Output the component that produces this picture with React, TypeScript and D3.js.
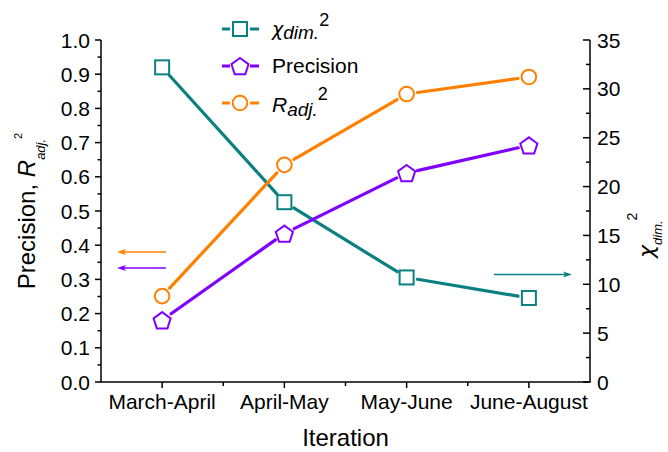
import React from "react";
import * as d3 from "d3";

const categories = ["March-April", "April-May", "May-June", "June-August"];
const chiValues = [32.2, 18.4, 10.7, 8.6];
const precisionValues = [0.181, 0.434, 0.611, 0.692];
const r2Values = [0.251, 0.635, 0.842, 0.892];
const leftTicks = [0, 0.1, 0.2, 0.3, 0.4, 0.5, 0.6, 0.7, 0.8, 0.9, 1.0];
const rightTicks = [0, 5, 10, 15, 20, 25, 30, 35];

const W = 668, H = 452;
const M = { left: 101, right: 590, top: 40, bottom: 382 };
const TEAL = "#0a8080", PURPLE = "#8000ff", ORANGE = "#ff8000";
const FONT = "'Liberation Sans', Arial, sans-serif";
const GREEK = "'DejaVu Sans', sans-serif";

const x = d3.scalePoint<string>().domain(categories).range([M.left, M.right]).padding(0.5);
const yL = d3.scaleLinear().domain([0, 1]).range([M.bottom, M.top]);
const yR = d3.scaleLinear().domain([0, 35]).range([M.bottom, M.top]);

function pentagon(r: number) {
  const pts = d3.range(5).map((i) => {
    const a = -Math.PI / 2 + (i * 2 * Math.PI) / 5;
    return [r * Math.cos(a), r * Math.sin(a)];
  });
  return "M" + pts.map((p) => p.join(",")).join("L") + "Z";
}

function Marker({ kind, cx, cy, color }: any) {
  if (kind === "square")
    return <rect x={cx - 7} y={cy - 7} width={14} height={14} fill="white" stroke={color} strokeWidth={2} />;
  if (kind === "circle") return <circle cx={cx} cy={cy} r={7.3} fill="white" stroke={color} strokeWidth={2} />;
  return <path transform={`translate(${cx},${cy + 1})`} d={pentagon(9)} fill="white" stroke={color} strokeWidth={2} strokeLinejoin="miter" />;
}

function Series({ values, scale, color, kind }: any) {
  const pts = values.map((v: number, i: number) => [x(categories[i])!, scale(v)]);
  const gap = 11;
  const segs = [];
  for (let i = 0; i < pts.length - 1; i++) {
    const [x1, y1] = pts[i], [x2, y2] = pts[i + 1];
    const len = Math.hypot(x2 - x1, y2 - y1);
    const ux = (x2 - x1) / len, uy = (y2 - y1) / len;
    segs.push(
      <line key={i} x1={x1 + ux * gap} y1={y1 + uy * gap} x2={x2 - ux * gap} y2={y2 - uy * gap}
        stroke={color} strokeWidth={3.2} strokeLinecap="round" />
    );
  }
  return (
    <g>
      {segs}
      {pts.map((p: number[], i: number) => <Marker key={i} kind={kind} cx={p[0]} cy={p[1]} color={color} />)}
    </g>
  );
}

function Arrow({ x1, x2, y, color }: any) {
  const dir = Math.sign(x2 - x1);
  const head = 9;
  return (
    <g>
      <line x1={x1} y1={y} x2={x2 - dir * head * 0.6} y2={y} stroke={color} strokeWidth={1.5} />
      <path d={`M${x2},${y}L${x2 - dir * head},${y - 3}L${x2 - dir * head * 0.75},${y}L${x2 - dir * head},${y + 3}Z`} fill={color} />
    </g>
  );
}

export default function App() {
  const leftMinor = d3.range(0.05, 1, 0.1);
  const rightMinor = d3.range(2.5, 35, 5);
  const xs = categories.map((c) => x(c)!);
  const step = x.step();
  const xMinor = xs.slice(0, -1).map((v) => v + step / 2);
  const legendRows = [
    { kind: "square", color: TEAL, y: 29 },
    { kind: "pentagon", color: PURPLE, y: 66 },
    { kind: "circle", color: ORANGE, y: 103 },
  ];
  return (
    <svg width={W} height={H} style={{ position: "absolute", left: 0, top: 0, background: "white" }} fontFamily={FONT}>
      {/* left axis */}
      <line x1={M.left} y1={M.top} x2={M.left} y2={M.bottom} stroke="black" strokeWidth={1.5} />
      {leftTicks.map((t) => (
        <g key={t}>
          <line x1={M.left - 6} x2={M.left} y1={yL(t)} y2={yL(t)} stroke="black" strokeWidth={1.5} />
          <text x={M.left - 11} y={yL(t)} dy="0.36em" textAnchor="end" fontSize={21}>{t.toFixed(1)}</text>
        </g>
      ))}
      {leftMinor.map((t) => <line key={t} x1={M.left - 3.5} x2={M.left} y1={yL(t)} y2={yL(t)} stroke="black" strokeWidth={1.5} />)}
      {/* right axis */}
      <line x1={M.right} y1={M.top} x2={M.right} y2={M.bottom} stroke="black" strokeWidth={1.5} />
      {rightTicks.map((t) => (
        <g key={t}>
          <line x1={M.right - 7} x2={M.right} y1={yR(t)} y2={yR(t)} stroke="black" strokeWidth={1.5} />
          <text x={M.right + 7} y={yR(t)} dy="0.36em" textAnchor="start" fontSize={21}>{t}</text>
        </g>
      ))}
      {rightMinor.map((t) => <line key={t} x1={M.right - 4} x2={M.right} y1={yR(t)} y2={yR(t)} stroke="black" strokeWidth={1.5} />)}
      {/* bottom axis */}
      <line x1={M.left - 0.75} y1={M.bottom} x2={M.right + 0.75} y2={M.bottom} stroke="black" strokeWidth={1.5} />
      {categories.map((c) => (
        <g key={c}>
          <line x1={x(c)} x2={x(c)} y1={M.bottom} y2={M.bottom + 6} stroke="black" strokeWidth={1.5} />
          <text x={x(c)} y={M.bottom + 27} textAnchor="middle" fontSize={21}>{c}</text>
        </g>
      ))}
      {xMinor.map((v) => <line key={v} x1={v} x2={v} y1={M.bottom} y2={M.bottom + 4} stroke="black" strokeWidth={1.5} />)}
      <text x={(M.left + M.right) / 2} y={446} textAnchor="middle" fontSize={24}>Iteration</text>
      {/* left title */}
      <text transform={`translate(35,${(M.top + M.bottom) / 2}) rotate(-90)`} textAnchor="middle" fontSize={24}>
        Precision,{" "}<tspan fontStyle="italic">R</tspan>
        <tspan fontStyle="italic" fontSize={13} dy={10}>adj.</tspan>
        <tspan fontSize={11} dy={-23}>2</tspan>
      </text>
      {/* right title */}
      <text transform={`translate(654,258) rotate(-90)`} textAnchor="start" fontSize={24}>
        <tspan fontStyle="italic" fontFamily={GREEK} fontSize={22}>χ</tspan>
        <tspan fontStyle="italic" fontSize={13} dy={8}>dim.</tspan>
        <tspan fontSize={14} dy={-25}>2</tspan>
      </text>
      {/* series */}
      <Series values={chiValues} scale={yR} color={TEAL} kind="square" />
      <Series values={r2Values} scale={yL} color={ORANGE} kind="circle" />
      <Series values={precisionValues} scale={yL} color={PURPLE} kind="pentagon" />
      {/* arrows */}
      <Arrow x1={166} x2={117} y={yL(0.38)} color={ORANGE} />
      <Arrow x1={166} x2={117} y={yL(0.333)} color={PURPLE} />
      <Arrow x1={494} x2={572} y={yR(11)} color={TEAL} />
      {/* legend */}
      {legendRows.map((r) => (
        <g key={r.kind}>
          <line x1={222} x2={230} y1={r.y} y2={r.y} stroke={r.color} strokeWidth={3} />
          <line x1={250} x2={259} y1={r.y} y2={r.y} stroke={r.color} strokeWidth={3} />
          <Marker kind={r.kind} cx={240} cy={r.y} color={r.color} />
        </g>
      ))}
      <text x={272} y={36} fontSize={21}>
        <tspan fontStyle="italic" fontFamily={GREEK} fontSize={19}>χ</tspan>
        <tspan fontStyle="italic" fontSize={19} dy={3}>dim.</tspan>
        <tspan fontSize={18} dy={-13}>2</tspan>
      </text>
      <text x={272} y={73} fontSize={21}>Precision</text>
      <text x={272} y={112} fontSize={21}>
        <tspan fontStyle="italic">R</tspan>
        <tspan fontStyle="italic" fontSize={19} dy={4}>adj.</tspan>
        <tspan fontSize={18} dy={-16}>2</tspan>
      </text>
    </svg>
  );
}
